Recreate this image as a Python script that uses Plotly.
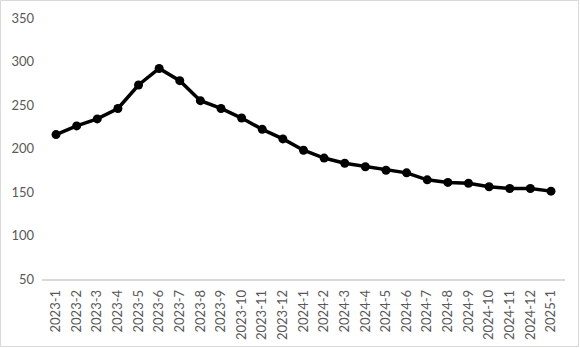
import plotly.graph_objects as go

months = ["2023-1","2023-2","2023-3","2023-4","2023-5","2023-6","2023-7","2023-8","2023-9",
          "2023-10","2023-11","2023-12","2024-1","2024-2","2024-3","2024-4","2024-5","2024-6",
          "2024-7","2024-8","2024-9","2024-10","2024-11","2024-12","2025-1"]
values = [216, 226, 234, 246, 273, 292, 278, 255, 246, 235, 222, 211, 198, 189, 183, 179,
          175, 172, 164, 161, 160, 156, 154, 154, 151]
y_ticks = [50, 100, 150, 200, 250, 300, 350]

W, H = 580, 348
ml, mr, mt, mb = 42, 15, 18, 69

fig = go.Figure(go.Scatter(
    x=list(range(len(months))), y=values, mode="lines+markers",
    line=dict(color="black", width=3.5),
    marker=dict(color="black", size=9),
))

pw = W - ml - mr
ph = H - mt - mb
fig.update_layout(
    width=W, height=H,
    margin=dict(l=ml, r=mr, t=mt, b=mb),
    paper_bgcolor="white", plot_bgcolor="white",
    showlegend=False,
    font=dict(family="Lato, 'Liberation Sans', sans-serif", size=13, color="#595959"),
    xaxis=dict(
        tickmode="array", tickvals=list(range(len(months))), ticktext=months,
        tickangle=-90, range=[-0.68, len(months) - 1 + 0.68],
        showgrid=False, showline=True, linecolor="#d9d9d9", linewidth=1.5,
        ticks="", zeroline=False, fixedrange=True, ticklabelstandoff=4,
        automargin=False,
    ),
    yaxis=dict(
        range=[50, 350], tickvals=y_ticks, showgrid=False, showline=False,
        zeroline=False, ticks="", ticklabelstandoff=7, fixedrange=True,
        automargin=False,
    ),
    shapes=[dict(
        type="rect", xref="paper", yref="paper",
        x0=(-ml + 0.5) / pw, x1=1 + (mr - 1.5) / pw,
        y0=(-mb + 1.5) / ph, y1=1 + (mt - 0.5) / ph,
        line=dict(color="#d9d9d9", width=1),
    )],
)

fig.write_html("out.html")
